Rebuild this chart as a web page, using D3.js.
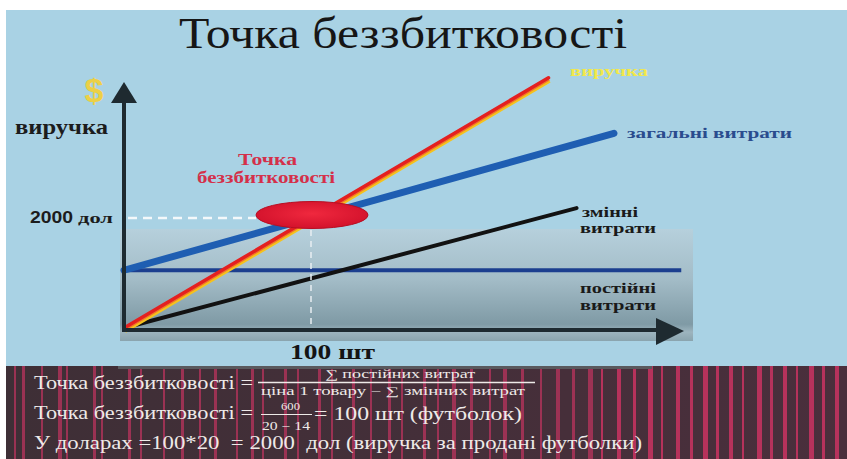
<!DOCTYPE html>
<html><head><meta charset="utf-8">
<script src="https://cdn.jsdelivr.net/npm/d3@7/dist/d3.min.js"></script>
<style>html,body{margin:0;padding:0;background:#fff;}svg{display:block;}</style>
</head><body>
<svg id="c" width="847" height="459"></svg>
<script>
// ---- data (units sold vs dollars) ----
const breakevenUnits = 100;
const breakevenDollars = 2000;
const revenueX = [0, 227];   const revenueY = [0, 4550];
const totalX   = [0, 262];   const totalY   = [1050, 3540];
const fixedX   = [0, 298];   const fixedY   = [1050, 1050];
const variableX= [0, 242];   const variableY= [0, 2180];
const labels = {
  title: "Точка беззбитковості",
  yAxis: "виручка",
  yTick: "2000",
  yTickUnit: "дол",
  xTick: "100 шт",
  revenue: "виручка",
  total: "загальні витрати",
  variable: ["змінні", "витрати"],
  fixed: ["постійні", "витрати"],
  point: ["Точка", "беззбитковості"]
};
const formulaLines = [
  "Точка беззбитковості =",
  "∑ постійних витрат",
  "ціна 1 товару − ∑ змінних витрат",
  "Точка беззбитковості =",
  "600",
  "20 − 14",
  "= 100 шт (футболок)",
  "У доларах =100*20  = 2000  дол (виручка за продані футболки)"
];

const svg = d3.select("#c");
const x = d3.scaleLinear().domain([0, 300]).range([124, 685]);
const y = d3.scaleLinear().domain([0, 5000]).range([328, 53]);

const defs = svg.append("defs");
const pg = defs.append("linearGradient").attr("id","panel").attr("x1",0).attr("y1",0).attr("x2",0).attr("y2",1);
pg.append("stop").attr("offset","0%").attr("stop-color","#b6d0dc");
pg.append("stop").attr("offset","45%").attr("stop-color","#a3bcc7");
pg.append("stop").attr("offset","85%").attr("stop-color","#7f9aa5");
pg.append("stop").attr("offset","92%").attr("stop-color","#9db4be");
pg.append("stop").attr("offset","100%").attr("stop-color","#8aa4ae");
const eg = defs.append("radialGradient").attr("id","ell").attr("cx","50%").attr("cy","45%").attr("r","60%");
eg.append("stop").attr("offset","0%").attr("stop-color","#f0283e");
eg.append("stop").attr("offset","100%").attr("stop-color","#d0102a");
const bg = defs.append("linearGradient").attr("id","bot").attr("x1",0).attr("y1",0).attr("x2",1).attr("y2",0);
bg.append("stop").attr("offset","0%").attr("stop-color","#3e2f36");
bg.append("stop").attr("offset","100%").attr("stop-color","#4a2f3c");

// background
svg.append("rect").attr("x",6).attr("y",10).attr("width",841).attr("height",449).attr("fill","#a9d2e4");

// shaded panel
svg.append("rect").attr("x",120).attr("y",229).attr("width",573).attr("height",112).attr("fill","url(#panel)");

// bottom formula band
svg.append("rect").attr("x",6).attr("y",366).attr("width",841).attr("height",93).attr("fill","url(#bot)");
const stripeX = [14,22,41,58,66,93,101,128,140,163,181,199,214,236,251,262,284,297,318,331,352,370,388,401,423,437,452,470,489,503,521,540,556,572,588,601,617,633,648,661,676,690,703,716,729,742,757,770,783,796,809,822,835];
const stripeW = [2,3,2,4,2,3,2,3,2,2,3,2,3,2,3,2,3,2,3,2,3,2,3,2,3,2,4,3,2,4,3,2,4,3,5,2,4,3,5,2,4,3,5,3,4,2,5,3,4,2,5,3,4];
svg.append("g").selectAll("rect").data(stripeX).join("rect")
  .attr("x", d=>d).attr("y",366).attr("width",(d,i)=>stripeW[i]).attr("height",93)
  .attr("fill","#c2335f").attr("opacity",(d,i)=> d>600 ? 0.9 : 0.7);
svg.append("rect").attr("x",118).attr("y",366).attr("width",534).attr("height",3).attr("fill","#5a5a5e");

const line = d3.line().x(d=>x(d[0])).y(d=>y(d[1]));
const pts = (xs, ys) => xs.map((v,i)=>[v, ys[i]]);

// fixed costs
svg.append("path").attr("d", line(pts(fixedX,fixedY))).attr("stroke","#1c3f8f").attr("stroke-width",4).attr("fill","none");
// variable costs
svg.append("path").attr("d", line(pts(variableX,variableY))).attr("stroke","#121212").attr("stroke-width",4).attr("fill","none").attr("stroke-linecap","round");
// total costs
svg.append("path").attr("d", line(pts(totalX,totalY))).attr("stroke","#1f5eb2").attr("stroke-width",7).attr("fill","none").attr("stroke-linecap","round");
// revenue (red with yellow-orange band)
svg.append("path").attr("d", line(pts(revenueX,revenueY))).attr("transform","translate(1,3)").attr("stroke","#f5c21c").attr("stroke-width",4).attr("fill","none");
svg.append("path").attr("d", line(pts(revenueX,revenueY))).attr("transform","translate(0.5,1.5)").attr("stroke","#f0782a").attr("stroke-width",3).attr("fill","none");
svg.append("path").attr("d", line(pts(revenueX,revenueY))).attr("stroke","#e42020").attr("stroke-width",3.5).attr("fill","none").attr("stroke-linecap","round");

// axes
const ax = svg.append("g").attr("fill","#1e2a30").attr("stroke","#1e2a30");
ax.append("line").attr("x1",x(0)).attr("y1",y(0)+2).attr("x2",x(0)).attr("y2",100).attr("stroke-width",4);
ax.append("path").attr("d",`M${x(0)-13},103 L${x(0)},82 L${x(0)+13},103 Z`).attr("stroke","none");
ax.append("line").attr("x1",x(0)-2).attr("y1",y(0)+2).attr("x2",660).attr("y2",y(0)+2).attr("stroke-width",4);
ax.append("path").attr("d",`M656,${y(0)-10} L684,${y(0)+3} L656,${y(0)+17} Z`).attr("stroke","none");

// dashed guides
svg.append("line").attr("x1",x(0)+4).attr("x2",x(breakevenUnits)-55).attr("y1",y(breakevenDollars)).attr("y2",y(breakevenDollars))
  .attr("stroke","#f4f8fa").attr("stroke-width",2.5).attr("stroke-dasharray","9,6");
svg.append("line").attr("x1",x(breakevenUnits)).attr("x2",x(breakevenUnits)).attr("y1",y(breakevenDollars)+12).attr("y2",y(0))
  .attr("stroke","#e8eef2").attr("stroke-width",1.5).attr("stroke-dasharray","6,5");

// breakeven ellipse
svg.append("ellipse").attr("cx",x(breakevenUnits)+1).attr("cy",y(breakevenDollars)-3).attr("rx",56).attr("ry",13.5)
  .attr("fill","url(#ell)").attr("stroke","#b80e22").attr("stroke-width",1);

// helper for stretched text (source picture is horizontally stretched)
function txt(g, s, xx, yy, size, len, opts) {
  const t = g.append("text").attr("x",xx).attr("y",yy).attr("font-size",size).text(s);
  if (len) t.attr("textLength",len).attr("lengthAdjust","spacingAndGlyphs");
  if (opts) Object.entries(opts).forEach(([k,v])=>t.attr(k,v));
  return t;
}

const serif = "'Liberation Serif','Times New Roman',serif";
const tg = svg.append("g").attr("font-family",serif);
txt(tg, labels.title, 179, 48, 45, 448, {fill:"#161616"});
svg.append("text").attr("x",94).attr("y",102).attr("text-anchor","middle").attr("font-family","'Liberation Sans',Arial,sans-serif").attr("font-weight","bold").attr("font-size",34).attr("fill","#ecd046").text("$");

const bgT = svg.append("g").attr("font-family",serif).attr("font-weight","bold");
txt(bgT, labels.yAxis, 15, 134, 21, 93, {fill:"#1c1c1c"});
txt(bgT, labels.yTick, 30, 223, 16, 43, {fill:"#1c1c1c","font-family":"'Liberation Sans',Arial,sans-serif"});
txt(bgT, labels.yTickUnit, 78, 223, 15, 35, {fill:"#1c1c1c"});
txt(bgT, labels.xTick, 290, 359, 22, 85, {fill:"#141414"});
txt(bgT, labels.point[0], 238, 165, 16, 59, {fill:"#d4304a"});
txt(bgT, labels.point[1], 197, 183, 16, 138, {fill:"#d4304a"});
txt(bgT, labels.revenue, 570, 76, 14, 78, {fill:"#f2e84a"});
txt(bgT, labels.total, 627, 138, 15, 165, {fill:"#2a4c8e"});
txt(bgT, labels.variable[0], 582, 217, 15, 56, {fill:"#1a1a1a"});
txt(bgT, labels.variable[1], 580, 233, 15, 76, {fill:"#1a1a1a"});
txt(bgT, labels.fixed[0], 580, 293, 15, 76, {fill:"#1a1a1a"});
txt(bgT, labels.fixed[1], 580, 310, 15, 76, {fill:"#1a1a1a"});

// formulas
const fcol = "#eeeae8";
const f = svg.append("g").attr("font-family",serif).attr("fill",fcol);
txt(f, formulaLines[0], 34, 389, 18, 219);
f.append("line").attr("x1",258).attr("x2",535).attr("y1",382.5).attr("y2",382.5).attr("stroke",fcol).attr("stroke-width",1.5);
txt(f, formulaLines[1], 325, 378, 12, 150);
txt(f, formulaLines[2], 261, 395, 11.5, 264);
txt(f, formulaLines[3], 34, 419, 18, 219);
txt(f, formulaLines[4], 281, 409.5, 10.5, 19);
f.append("line").attr("x1",261).attr("x2",312).attr("y1",414.5).attr("y2",414.5).attr("stroke",fcol).attr("stroke-width",1.2);
txt(f, formulaLines[5], 262, 430, 11.5, 48);
txt(f, formulaLines[6], 314, 420, 18, 208);
txt(f, formulaLines[7], 34, 449, 18, 608, {"xml:space":"preserve"});
</script>
</body></html>
